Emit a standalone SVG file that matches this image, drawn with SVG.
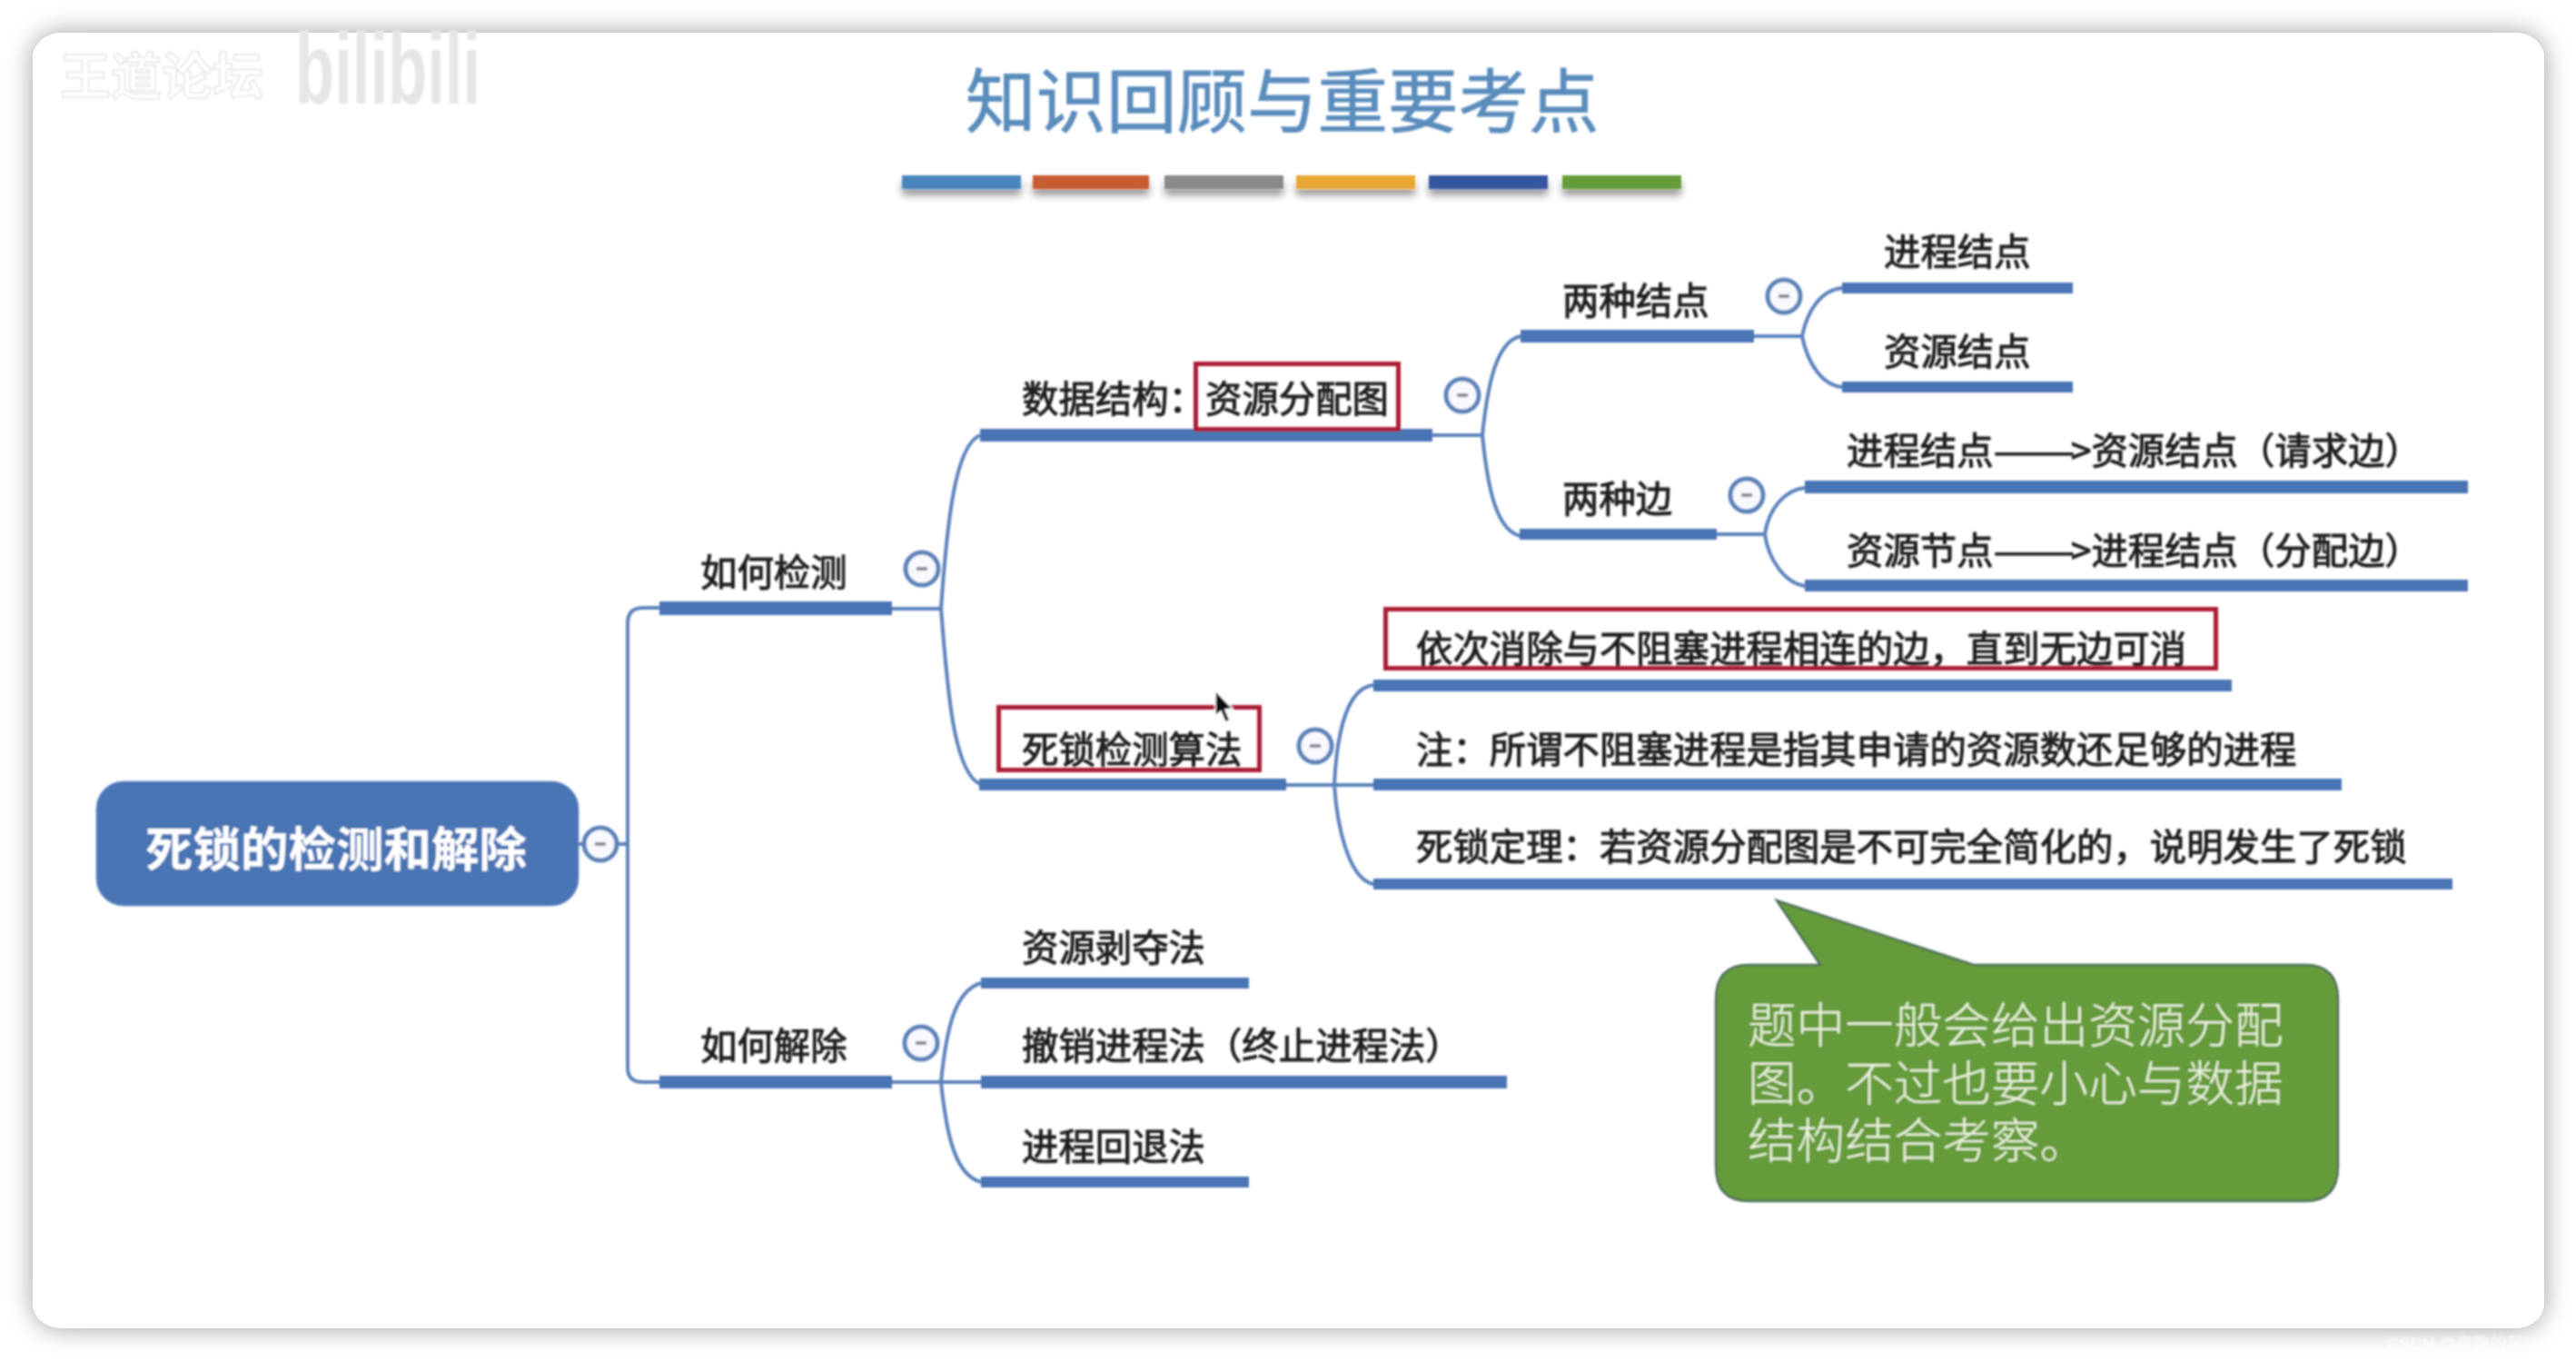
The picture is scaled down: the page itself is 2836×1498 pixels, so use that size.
<svg xmlns="http://www.w3.org/2000/svg" width="2836" height="1498" viewBox="0 0 2836 1498">
<style>
text{font-family:"Noto Sans CJK SC","Noto Sans",sans-serif}
.t{font-size:40.4px;fill:#1c1c1c;stroke:#1c1c1c;stroke-width:1px}
.bar{fill:#4a74b4}
.c{fill:none;stroke:#5b82bb;stroke-width:4}
.red{fill:none;stroke:#ab1e35;stroke-width:5}
.col{fill:#f8f9fd;stroke:#5c82b8;stroke-width:5}
.min{stroke:#8a8a9a;stroke-width:4}
.call{font-size:53.6px;font-weight:300;fill:#eaf2dc}
</style>
<defs>
<filter id="card" x="-5%" y="-8%" width="110%" height="116%"><feDropShadow dx="0" dy="0" stdDeviation="14" flood-color="#000" flood-opacity=".38"/></filter>
<filter id="bs" x="-10%" y="-50%" width="120%" height="250%"><feDropShadow dx="0" dy="7" stdDeviation="4" flood-color="#000" flood-opacity=".4"/></filter>
<filter id="soft" filterUnits="userSpaceOnUse" x="0" y="0" width="2836" height="1498"><feGaussianBlur stdDeviation="1"/></filter>
<g id="m"><circle class="col" r="18"/><line class="min" x1="-6" x2="6"/></g>
</defs>
<rect width="2836" height="1498" fill="#fff"/>
<rect id="card-bg" x="36" y="36" width="2765" height="1426" rx="32" ry="28" fill="#fff" filter="url(#card)"/>
<g id="watermark" filter="url(#soft)">
<text x="66" y="104" font-size="56" font-weight="700" fill="#fff" stroke="#e4e4e4" stroke-width="1.5">王道论坛</text>
<text x="325" y="114" font-size="112" font-weight="700" fill="#e6e6e6" style="font-family:'Liberation Sans',sans-serif" textLength="204" lengthAdjust="spacingAndGlyphs">bilibili</text>
<text x="2628" y="1485" font-size="18.500" fill="#fff" fill-opacity=".7" style="font-family:'Liberation Sans','Noto Sans CJK SC',sans-serif">CSDN @奔跑的星</text>
</g>
<g id="diagram" filter="url(#soft)">
<g id="header">
<text x="1063" y="140" font-size="77.500" fill="#5a8cbc" stroke="#5a8cbc" stroke-width=".8">知识回顾与重要考点</text>
<g filter="url(#bs)">
<rect x="993" y="193" width="131" height="15" fill="#4a84bc"/>
<rect x="1137" y="193" width="128" height="15" fill="#c65b31"/>
<rect x="1282" y="193" width="131" height="15" fill="#8a8a8a"/>
<rect x="1427" y="193" width="131" height="15" fill="#e8a635"/>
<rect x="1573" y="193" width="131" height="15" fill="#35559f"/>
<rect x="1720" y="193" width="131" height="15" fill="#659b3b"/>
</g>
</g>
<g id="connectors">
<path class="c" d="M637 929H691M726 669H708Q691 669 691 686V1175Q691 1191 708 1191H726"/>
<path class="c" d="M982 670H1036M1079 479C1052 490 1043 570 1036 670C1043 760 1050 850 1079 863"/>
<path class="c" d="M982 1191H1080M1080 1082C1052 1090 1042 1130 1036 1191C1042 1250 1052 1294 1080 1301"/>
<path class="c" d="M1577 479H1632M1674 370C1648 376 1638 420 1632 479C1638 540 1648 584 1674 590"/>
<path class="c" d="M1931 370H1984M2028 317C2006 319 1990 340 1984 370C1990 400 2006 424 2028 426"/>
<path class="c" d="M1890 588H1943M1987 537C1965 539 1947 560 1943 588C1947 616 1965 642 1987 645"/>
<path class="c" d="M1416 864H1512M1512 754C1485 757 1472 800 1469 864C1472 910 1485 968 1512 973"/>
</g>
<g id="root">
<rect x="106" y="860" width="531" height="137" rx="30" ry="30" fill="#4a74b4" stroke="#7d9cd0" stroke-width="1"/>
<text x="160" y="954" font-size="52.500" font-weight="700" fill="#fff">死锁的检测和解除</text>
<use href="#m" x="661" y="929"/>
</g>
<g id="detect">
<rect class="bar" x="726" y="662" width="256" height="15"/>
<text class="t" x="771" y="645">如何检测</text>
<use href="#m" x="1015" y="626"/>
</g>
<g id="resolve">
<rect class="bar" x="726" y="1184" width="256" height="14"/>
<text class="t" x="771" y="1166">如何解除</text>
<use href="#m" x="1014" y="1148"/>
</g>
<g id="data-structure">
<rect class="bar" x="1079" y="472" width="498" height="14"/>
<text class="t" x="1125" y="454">数据结构：</text>
<text class="t" x="1327" y="454">资源分配图</text>
<rect class="red" x="1316.500" y="400.500" width="223" height="72"/>
<use href="#m" x="1610" y="435"/>
</g>
<g id="two-nodes">
<rect class="bar" x="1674" y="363" width="257" height="14"/>
<text class="t" x="1720" y="346">两种结点</text>
<use href="#m" x="1964" y="326"/>
</g>
<g id="process-node">
<rect class="bar" x="2028" y="311" width="254" height="12"/>
<text class="t" x="2074" y="292">进程结点</text>
</g>
<g id="resource-node">
<rect class="bar" x="2028" y="420" width="254" height="12"/>
<text class="t" x="2074" y="402">资源结点</text>
</g>
<g id="two-edges">
<rect class="bar" x="1673" y="582" width="217" height="12"/>
<text class="t" x="1720" y="564">两种边</text>
<use href="#m" x="1923" y="545"/>
</g>
<g id="request-edge">
<rect class="bar" x="1987" y="529" width="730" height="14"/>
<text class="t" x="2033" y="511">进程结点<tspan textLength="90" lengthAdjust="spacingAndGlyphs">——</tspan><tspan x="2280">&gt;资源结点（请求边）</tspan></text>
</g>
<g id="assign-edge">
<rect class="bar" x="1987" y="638" width="730" height="13"/>
<text class="t" x="2033" y="621">资源节点<tspan textLength="90" lengthAdjust="spacingAndGlyphs">——</tspan><tspan x="2280">&gt;进程结点（分配边）</tspan></text>
</g>
<g id="algo">
<rect class="bar" x="1078" y="857" width="338" height="13"/>
<text class="t" x="1125" y="840">死锁检测算法</text>
<rect class="red" x="1099.500" y="778.500" width="287" height="69"/>
<use href="#m" x="1448" y="821"/>
</g>
<g id="algo-1">
<rect class="bar" x="1512" y="748" width="945" height="13"/>
<text class="t" x="1559" y="729">依次消除与不阻塞进程相连的边，直到无边可消</text>
<rect class="red" x="1525.500" y="670.500" width="914" height="65"/>
</g>
<g id="algo-2">
<rect class="bar" x="1512" y="857" width="1066" height="13"/>
<text class="t" x="1559" y="840">注：所谓不阻塞进程是指其申请的资源数还足够的进程</text>
</g>
<g id="algo-3">
<rect class="bar" x="1512" y="967" width="1188" height="12"/>
<text class="t" x="1559" y="947">死锁定理：若资源分配图是不可完全简化的，说明发生了死锁</text>
</g>
<g id="preempt">
<rect class="bar" x="1080" y="1076" width="295" height="12"/>
<text class="t" x="1125" y="1058">资源剥夺法</text>
</g>
<g id="kill">
<rect class="bar" x="1080" y="1184" width="579" height="14"/>
<text class="t" x="1125" y="1166">撤销进程法（终止进程法）</text>
</g>
<g id="rollback">
<rect class="bar" x="1080" y="1295" width="295" height="12"/>
<text class="t" x="1125" y="1277">进程回退法</text>
</g>
<g id="callout">
<path d="M1956 991L2004 1062H1925Q1889 1062 1889 1100V1284Q1889 1322 1925 1322H2538Q2574 1322 2574 1284V1100Q2574 1062 2538 1062H2173Z" fill="#659b3b" stroke="#4f6f5c" stroke-width="2.500"/>
<text class="call" x="1924" y="1148">题中一般会给出资源分配</text>
<text class="call" x="1924" y="1212">图。不过也要小心与数据</text>
<text class="call" x="1924" y="1275">结构结合考察。</text>
</g>
<path id="cursor" d="M1338 760V788L1344 783L1349 795L1354 793L1349 781L1357 780Z" fill="#111" stroke="#fff" stroke-width="1.500"/>
</g>
</svg>
